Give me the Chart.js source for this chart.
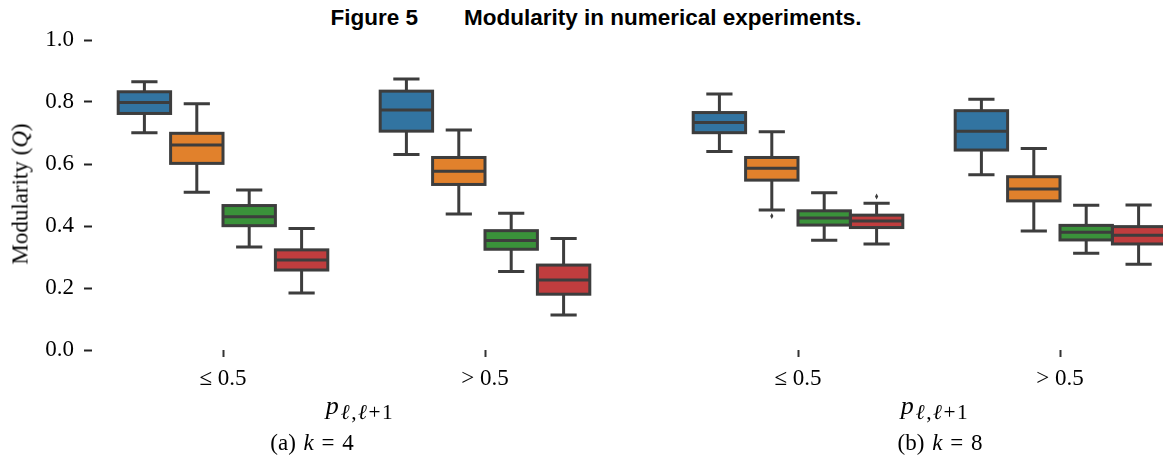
<!DOCTYPE html>
<html>
<head>
<meta charset="utf-8">
<script src="https://cdn.jsdelivr.net/npm/chart.js@4.4.1/dist/chart.umd.min.js"></script>
<style>
    body { margin: 0; width: 1163px; height: 457px; overflow: hidden; background: #fff; position: relative; font-family: "Liberation Serif", serif; }
    canvas { position: absolute; top: 0; }
    #chartK4 { left: 0; }
    #chartK8 { left: 640px; }
    .txt { position: absolute; white-space: nowrap; color: #000; transform: translate(-50%, -50%); line-height: 1; }
    .txt sub { font-size: 82%; vertical-align: -0.25em; letter-spacing: 1.5px; margin-left: 2px; }
    #figTitle { font: bold 22.5px "Liberation Sans", Arial, sans-serif; left: 596px; top: 18px; }
    #yTitle { font-size: 23px; left: 20px; top: 194px; transform: translate(-50%, -50%) rotate(-90deg); }
    .xTitle { font-size: 26px; top: 408px; }
    .caption { font-size: 23px; top: 442px; word-spacing: 2px; }
</style>
</head>
<body>
<div id="figTitle" class="txt">Figure 5<span style="margin-left:46px">Modularity in numerical experiments.</span></div>
<canvas id="chartK4" width="630" height="400"></canvas>
<canvas id="chartK8" width="560" height="400"></canvas>
<div id="yTitle" class="txt">Modularity (<i>Q</i>)</div>
<div class="txt xTitle" style="left:360px"><i>p</i><sub><i>ℓ</i>,<i>ℓ</i>+1</sub></div>
<div class="txt xTitle" style="left:935px"><i>p</i><sub><i>ℓ</i>,<i>ℓ</i>+1</sub></div>
<div class="txt caption" style="left:312px">(a) <i>k</i> = 4</div>
<div class="txt caption" style="left:940px">(b) <i>k</i> = 8</div>

<script>
// x groups: p(l, l+1)
const groups = ['≤ 0.5', '> 0.5'];
const seriesNames = ['series 1', 'series 2', 'series 3', 'series 4'];
const colors = ['#3274a1', '#e1812c', '#3a923a', '#c03d3e'];
const EDGE = '#3d3d3d';

// each box: [whisker low, q1, median, q3, whisker high], one per group
const k4Blue   = [[0.701, 0.763, 0.798, 0.833, 0.865], [0.631, 0.706, 0.774, 0.835, 0.874]];
const k4Orange = [[0.509, 0.602, 0.661, 0.699, 0.794], [0.439, 0.534, 0.577, 0.621, 0.710]];
const k4Green  = [[0.332, 0.401, 0.430, 0.466, 0.516], [0.253, 0.325, 0.353, 0.385, 0.441]];
const k4Red    = [[0.184, 0.258, 0.290, 0.323, 0.392], [0.113, 0.180, 0.226, 0.274, 0.360]];

const k8Blue   = [[0.640, 0.701, 0.734, 0.766, 0.826], [0.565, 0.645, 0.706, 0.772, 0.809]];
const k8Orange = [[0.452, 0.548, 0.586, 0.621, 0.704], [0.384, 0.481, 0.519, 0.559, 0.650]];
const k8Green  = [[0.354, 0.403, 0.426, 0.449, 0.507], [0.312, 0.355, 0.380, 0.402, 0.467]];
const k8Red    = [[0.342, 0.395, 0.416, 0.435, 0.473], [0.277, 0.342, 0.370, 0.398, 0.468]];

// outliers per group
const k4Fliers = [[[], []], [[], []], [[], []], [[], []]];
const k8Fliers = [[[], []], [[0.432], []], [[], []], [[0.495], []]];

const yTicks = [0, 0.2, 0.4, 0.6, 0.8, 1.0];

// whiskers, caps, outlines, medians and fliers on top of the floating bars
const boxPlugin = {
    id: 'boxes',
    afterDatasetsDraw(chart) {
        const ctx = chart.ctx;
        const y = chart.scales.y;
        ctx.save();
        ctx.strokeStyle = EDGE;
        ctx.fillStyle = EDGE;
        ctx.lineWidth = 3;
        ctx.lineJoin = 'miter';
        chart.data.datasets.forEach((ds, i) => {
            chart.getDatasetMeta(i).data.forEach((el, j) => {
                const s = ds.stats[j];
                const x = el.x, w = el.width;
                const [lo, q1, med, q3, hi] = s.map(v => y.getPixelForValue(v));
                ctx.beginPath();
                ctx.moveTo(x, q3); ctx.lineTo(x, hi);
                ctx.moveTo(x, q1); ctx.lineTo(x, lo);
                ctx.moveTo(x - w / 4, hi); ctx.lineTo(x + w / 4, hi);
                ctx.moveTo(x - w / 4, lo); ctx.lineTo(x + w / 4, lo);
                ctx.moveTo(x - w / 2, med); ctx.lineTo(x + w / 2, med);
                ctx.stroke();
                ctx.strokeRect(x - w / 2, q3, w, q1 - q3);
                (ds.fliers[j] || []).forEach(v => {
                    const py = y.getPixelForValue(v);
                    ctx.beginPath();
                    ctx.moveTo(x, py - 3); ctx.lineTo(x + 1.6, py);
                    ctx.lineTo(x, py + 3); ctx.lineTo(x - 1.6, py);
                    ctx.closePath();
                    ctx.fill();
                });
            });
        });
        ctx.restore();
    }
};

const tickFont = { family: '"Liberation Serif", serif', size: 23 };

function makeChart(id, series, fliers, showY, padding) {
    return new Chart(document.getElementById(id).getContext('2d'), {
        type: 'bar',
        data: {
            labels: groups,
            datasets: series.map((stats, i) => ({
                label: seriesNames[i],
                data: stats.map(s => [s[1], s[3]]),
                stats: stats,
                fliers: fliers[i],
                backgroundColor: colors[i],
                borderWidth: 0,
                categoryPercentage: 0.8,
                barPercentage: 1.0,
            })),
        },
        options: {
            responsive: false,
            animation: false,
            layout: { padding },
            scales: {
                x: {
                    grid: { display: true, drawOnChartArea: false, offset: false, tickLength: 7, tickWidth: 2, tickColor: '#333' },
                    border: { display: false },
                    ticks: { font: tickFont, color: '#000', padding: 8, maxRotation: 0 },
                    afterFit: s => { s.height = 50; },
                },
                y: {
                    display: showY,
                    min: 0,
                    max: 1,
                    afterBuildTicks: s => { s.ticks = yTicks.map(v => ({ value: v })); },
                    grid: { display: true, drawOnChartArea: false, tickLength: 8, tickWidth: 2, tickColor: '#222' },
                    border: { display: false },
                    ticks: { font: tickFont, color: '#000', padding: 10, callback: v => v.toFixed(1) },
                    afterFit: s => { s.width = showY ? 92 : 0; },
                },
            },
            plugins: {
                legend: { display: false },
                tooltip: { enabled: false },
            },
        },
        plugins: [boxPlugin],
    });
}

makeChart('chartK4', [k4Blue, k4Orange, k4Green, k4Red], k4Fliers, true, { top: 40, right: 14, left: 0, bottom: 0 });
makeChart('chartK8', [k8Blue, k8Orange, k8Green, k8Red], k8Fliers, false, { top: 40, right: 9, left: 27, bottom: 0 });
</script>
</body>
</html>
